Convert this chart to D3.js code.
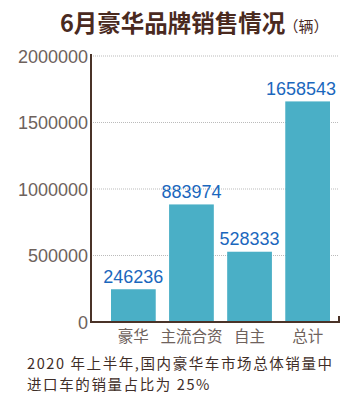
<!DOCTYPE html>
<html>
<head>
<meta charset="utf-8">
<script src="https://cdn.jsdelivr.net/npm/d3@7"></script>
<style>
  body { margin: 0; background: #fff; }
  svg text { font-family: "Noto Sans CJK SC", "Noto Sans", sans-serif; }
</style>
</head>
<body>
<div id="chart"></div>
<script>
const categories = ['豪华', '主流合资', '自主', '总计']
const sales = [246236, 883974, 528333, 1658543]
const yTicks = [0, 500000, 1000000, 1500000, 2000000]
const noteLines = ['2020 年上半年,国内豪华车市场总体销量中', '进口车的销量占比为 25%']

const width = 351
const height = 398
const axisLeft = 91
const axisRight = 339
const plotTop = 56
const plotBottom = 322

const svg = d3.select('#chart').append('svg')
  .attr('width', width)
  .attr('height', height)

// Title
const title = svg.append('text')
  .attr('x', 60)
  .attr('y', 32)
  .attr('fill', '#4a2a1f')
title.append('tspan')
  .style('font-size', '23.5px')
  .style('font-weight', 'bold')
  .text('6月豪华品牌销售情况')
title.append('tspan')
  .style('font-size', '15px')
  .attr('dx', -2)
  .text('（辆）')

const y = d3.scaleLinear()
  .domain([0, 2000000])
  .range([plotBottom, plotTop])

const x = d3.scaleBand()
  .domain(categories)
  .range([111, 330])
  .paddingInner(0.23)
  .paddingOuter(0)

// Grid lines
svg.append('g')
  .selectAll('line')
  .data(yTicks.filter(d => d > 0))
  .join('line')
  .attr('x1', axisLeft + 2)
  .attr('x2', axisRight)
  .attr('y1', d => y(d))
  .attr('y2', d => y(d))
  .attr('stroke', '#bbb')
  .attr('stroke-width', 1)
  .attr('stroke-dasharray', '1,1')

// Tick labels
svg.append('g')
  .selectAll('text')
  .data(yTicks)
  .join('text')
  .attr('x', axisLeft - 3)
  .attr('y', d => y(d) + 6.5)
  .attr('text-anchor', 'end')
  .attr('fill', '#6e625c')
  .style('font-size', '18px')
  .style('font-family', 'Liberation Sans, Arial, sans-serif')
  .text(d => d)

// Bars
svg.append('g')
  .selectAll('rect')
  .data(sales)
  .join('rect')
  .attr('x', (d, i) => x(categories[i]))
  .attr('y', d => y(d))
  .attr('width', x.bandwidth())
  .attr('height', d => y(0) - y(d))
  .attr('fill', '#4aafc6')

// Value labels (kept inside the frame on the right)
svg.append('g')
  .selectAll('text')
  .data(sales)
  .join('text')
  .attr('y', d => y(d) - 6.5)
  .attr('text-anchor', 'middle')
  .attr('fill', '#1b67bd')
  .style('font-size', '18px')
  .style('font-family', 'Liberation Sans, Arial, sans-serif')
  .text(d => d)
  .attr('x', function (d, i) {
    const cx = x(categories[i]) + x.bandwidth() / 2
    const half = this.getComputedTextLength() / 2
    return Math.min(cx, 336 - half)
  })

// Axes
svg.append('path')
  .attr('d', `M${axisLeft},${plotTop - 2}V${plotBottom}H${axisRight}V${plotBottom - 6}`)
  .attr('fill', 'none')
  .attr('stroke', '#4a3328')
  .attr('stroke-width', 2)

// Category labels
svg.append('g')
  .selectAll('text')
  .data(categories)
  .join('text')
  .attr('x', d => x(d) + x.bandwidth() / 2)
  .attr('y', 342)
  .attr('text-anchor', 'middle')
  .attr('fill', '#6e625c')
  .style('font-size', '15.5px')
  .text(d => d)

// Note
svg.append('g')
  .selectAll('text')
  .data(noteLines)
  .join('text')
  .attr('x', 27)
  .attr('y', (d, i) => 369 + i * 21)
  .attr('fill', '#3f2e28')
  .style('font-size', '14.5px')
  .style('letter-spacing', '1.6px')
  .text(d => d)
</script>
</body>
</html>
